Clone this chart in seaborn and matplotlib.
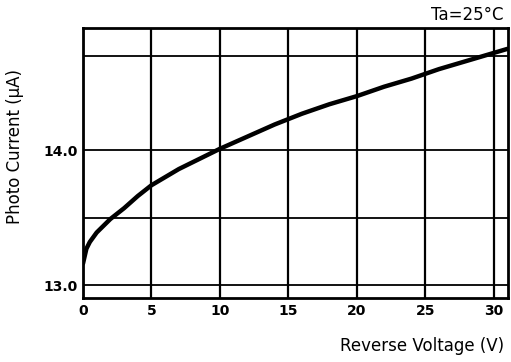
import matplotlib
matplotlib.use("Agg")
import matplotlib.pyplot as plt
import seaborn as sns
import pandas as pd

voltage = [0, 0.25, 0.5, 1, 1.5, 2, 3, 4, 5, 6, 7, 8, 9, 10, 12, 14, 16, 18, 20, 22, 24, 26, 28, 30, 31]
current = [13.16, 13.27, 13.32, 13.39, 13.44, 13.49, 13.57, 13.66, 13.74, 13.80, 13.86, 13.91, 13.96, 14.01,
           14.10, 14.19, 14.27, 14.34, 14.40, 14.47, 14.53, 14.60, 14.66, 14.72, 14.75]
x_ticks = [0, 5, 10, 15, 20, 25, 30]
x_tick_labels = ["0", "5", "10", "15", "20", "25", "30"]
y_ticks = [13.0, 14.0]
y_tick_labels = ["13.0", "14.0"]
y_grid = [13.0, 13.5, 14.0, 14.7]

sns.set_theme(style="white")
plt.rcParams['font.family'] = ['DejaVu Sans']
plt.rcParams['text.color'] = 'black'
plt.rcParams['xtick.color'] = 'black'
plt.rcParams['ytick.color'] = 'black'

df = pd.DataFrame({"V": voltage, "I": current})

fig = plt.figure(figsize=(5.11, 3.62), dpi=100)
ax = fig.add_axes([0.1624, 0.1768, 0.8317, 0.7459])

for v in x_ticks:
    ax.axvline(v, color="black", lw=1.6, zorder=1)
for g in y_grid:
    ax.axhline(g, color="black", lw=1.3, zorder=1)

sns.lineplot(data=df, x="V", y="I", ax=ax, color="black", lw=3.2, zorder=3)

ax.set_xlim(0, 31.05)
ax.set_ylim(12.905, 14.905)
ax.set_xticks(x_ticks)
ax.set_xticklabels(x_tick_labels, fontsize=10, fontweight="bold", color="black")
ax.set_yticks(y_ticks)
ax.set_yticklabels(y_tick_labels, fontsize=10, fontweight="bold", color="black")
ax.tick_params(axis="both", length=0, pad=4)
ax.set_xlabel("")
ax.set_ylabel("")
for s in ax.spines.values():
    s.set_color("black")
    s.set_linewidth(2)

fig.text(0.03, 0.594, "Photo Current (\u03bcA)", rotation=90, ha="center", va="center", fontsize=12, color="black")
fig.text(0.986, 0.044, "Reverse Voltage (V)", ha="right", va="center", fontsize=12, color="black")
fig.text(0.986, 0.958, "Ta=25\u00b0C", ha="right", va="center", fontsize=12, color="black")

fig.savefig("out.png", dpi=100)
